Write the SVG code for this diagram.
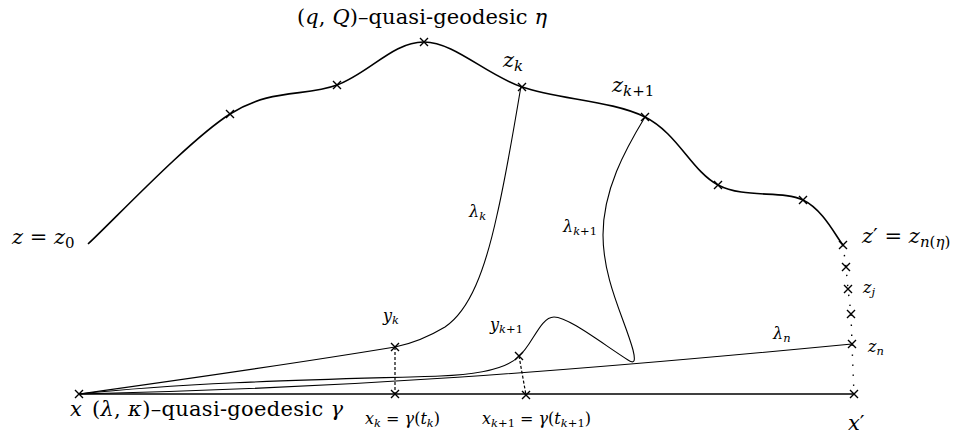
<svg xmlns="http://www.w3.org/2000/svg" width="970" height="438" viewBox="0 0 970 438">
<defs>
<path id="cr" d="M-4,-4L4,4M-4,4L4,-4"/>
</defs>
<style>
use{fill:none;stroke:#000;stroke-width:1.4}
text{fill:#000;font-family:"DejaVu Serif","Liberation Serif",serif}
.big{font-size:21px}
.sm{font-size:16px}
.i{font-style:italic}
.thick{fill:none;stroke:#000;stroke-width:1.6}
.thin{fill:none;stroke:#000;stroke-width:1.1}
.dash{fill:none;stroke:#000;stroke-width:1.2;stroke-dasharray:3 2}
.dot{fill:none;stroke:#000;stroke-width:1.4;stroke-dasharray:1.4 8.6}
</style>
<rect width="970" height="438" fill="#fff"/>
<g id="connectors">
<path id="eta" class="thick" d="M88,244 C111.7,222.3 188.5,140.5 230,114 C271.5,87.7 304.7,97 337,85 C369.3,73 393.2,41.7 424,42 C454.8,42.3 485.2,74.5 522,87 C558.8,99.5 612.3,100.7 645,117 C677.7,133.3 691.7,171.2 718,185 C744.3,198.8 782.2,190 803,200 C823.8,210 836.3,237.5 843,245"/>
<path id="gamma" class="thick" d="M79,394 L854,394"/>
<path id="lambda-k" class="thin" d="M521,86 C512,140 505,180 497,215 C485,270 470,310 445,327 C425,339 410,344 395,347 Q280,366 79,394"/>
<path id="lambda-k1" class="thin" d="M79,394 C200,381 350,379 440,376 C490,374 510,366 519,356 C532,346 540,317 554,317 C568,317 600,342 628,360 C634,364 636,362 633,350 C625,320 603,280 603,235 C603,190 625,150 645,117"/>
<path id="lambda-n" class="thin" d="M79,394 C350,388 560,372 852,344"/>
<path id="proj-k" class="dash" d="M395,347 L395,394"/>
<path id="proj-k1" class="dash" d="M519,356 L526,395"/>
<path id="dots" class="dot" d="M843,245 L846,267 L848,289 L851,314 L852,344 L854,394"/>
</g>
<g id="title-eta"><text class="big" x="297" y="24" textLength="250">(<tspan class="i">q</tspan>, <tspan class="i">Q</tspan>)–quasi-geodesic <tspan class="i">η</tspan></text></g>
<g id="title-gamma"><text class="big" x="92" y="416" textLength="251">(<tspan class="i">λ</tspan>, <tspan class="i">κ</tspan>)–quasi-goedesic <tspan class="i">γ</tspan></text></g>
<g id="node-z0"><text class="big" x="12" y="244"><tspan class="i">z</tspan> = <tspan class="i">z</tspan><tspan font-size="15" dy="4">0</tspan></text></g>
<g id="node-eta1"><use href="#cr" x="230" y="114"/></g>
<g id="node-eta2"><use href="#cr" x="337" y="85"/></g>
<g id="node-eta3"><use href="#cr" x="424" y="42"/></g>
<g id="node-zk"><use href="#cr" x="522" y="87"/><text class="big" x="503" y="67"><tspan class="i">z</tspan><tspan class="i" font-size="15" dy="4">k</tspan></text></g>
<g id="node-zk1"><use href="#cr" x="645" y="117"/><text class="big" x="612" y="92"><tspan class="i">z</tspan><tspan font-size="15" dy="4"><tspan class="i">k</tspan>+1</tspan></text></g>
<g id="node-eta6"><use href="#cr" x="718" y="185"/></g>
<g id="node-eta7"><use href="#cr" x="803" y="200"/></g>
<g id="node-zprime"><use href="#cr" x="843" y="245"/><text class="big" x="862" y="243"><tspan class="i">z</tspan>′ = <tspan class="i">z</tspan><tspan font-size="15" dy="4"><tspan class="i">n</tspan>(<tspan class="i">η</tspan>)</tspan></text></g>
<g id="node-d1"><use href="#cr" x="846" y="267"/></g>
<g id="node-zj"><use href="#cr" x="848" y="289"/><text class="sm" x="863" y="293"><tspan class="i">z</tspan><tspan class="i" font-size="11.5" dy="3">j</tspan></text></g>
<g id="node-d3"><use href="#cr" x="851" y="314"/></g>
<g id="node-zn"><use href="#cr" x="852" y="344"/><text class="sm" x="868" y="352"><tspan class="i">z</tspan><tspan class="i" font-size="11.5" dy="3">n</tspan></text></g>
<g id="node-x"><use href="#cr" x="79" y="394"/><text class="big i" x="70" y="416">x</text></g>
<g id="node-yk"><use href="#cr" x="395" y="347"/><text class="sm" x="383" y="321"><tspan class="i">y</tspan><tspan class="i" font-size="11.5" dy="3">k</tspan></text></g>
<g id="node-xk"><use href="#cr" x="395" y="394"/><text class="sm" x="365" y="424"><tspan class="i">x</tspan><tspan class="i" font-size="11.5" dy="3">k</tspan><tspan dy="-3"> = </tspan><tspan class="i">γ</tspan>(<tspan class="i">t</tspan><tspan class="i" font-size="11.5" dy="3">k</tspan><tspan dy="-3">)</tspan></text></g>
<g id="node-yk1"><use href="#cr" x="519" y="356"/><text class="sm" x="490" y="330"><tspan class="i">y</tspan><tspan font-size="11.5" dy="3"><tspan class="i">k</tspan>+1</tspan></text></g>
<g id="node-xk1"><use href="#cr" x="526" y="395"/><text class="sm" x="482" y="424"><tspan class="i">x</tspan><tspan font-size="11.5" dy="3"><tspan class="i">k</tspan>+1</tspan><tspan dy="-3"> = </tspan><tspan class="i">γ</tspan>(<tspan class="i">t</tspan><tspan font-size="11.5" dy="3"><tspan class="i">k</tspan>+1</tspan><tspan dy="-3">)</tspan></text></g>
<g id="node-xprime"><use href="#cr" x="854" y="394"/><text class="big" x="848" y="430"><tspan class="i">x</tspan>′</text></g>
<g id="label-lambda-k"><text class="sm" x="469" y="217"><tspan class="i">λ</tspan><tspan class="i" font-size="11.5" dy="3">k</tspan></text></g>
<g id="label-lambda-k1"><text class="sm" x="563" y="232"><tspan class="i">λ</tspan><tspan font-size="11.5" dy="3"><tspan class="i">k</tspan>+1</tspan></text></g>
<g id="label-lambda-n"><text class="sm" x="773" y="339"><tspan class="i">λ</tspan><tspan class="i" font-size="11.5" dy="3">n</tspan></text></g>
</svg>
